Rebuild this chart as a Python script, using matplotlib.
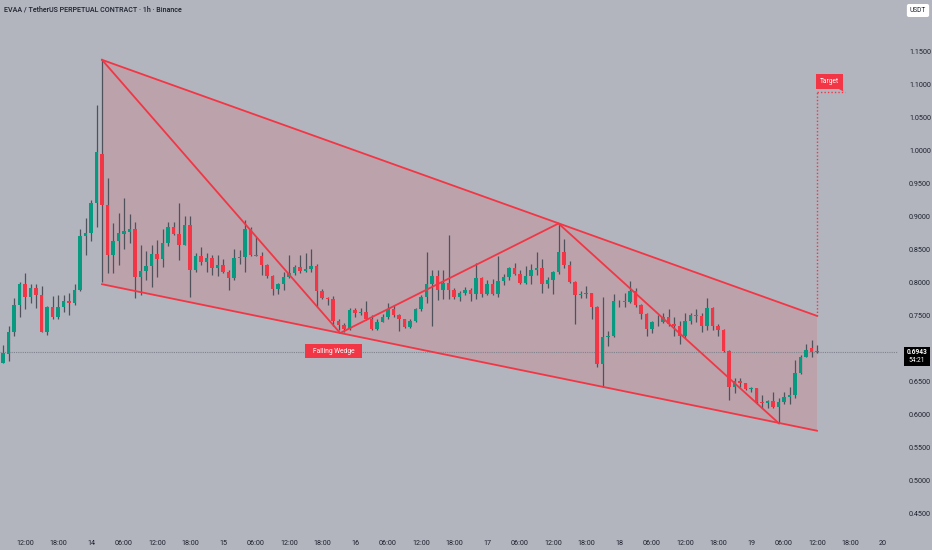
import numpy as np
import matplotlib
matplotlib.use('Agg')
import matplotlib.pyplot as plt
from matplotlib.patches import Rectangle, Polygon

plt.rcParams['font.family'] = ['Roboto', 'DejaVu Sans']

# 1h candles, first one at day 13 08:00 (x = hours since day 13 00:00)
start_hour = 8
opens = [0.678, 0.692, 0.724, 0.766, 0.797, 0.777, 0.792, 0.781, 0.725, 0.763,
         0.748, 0.762, 0.771, 0.769, 0.788, 0.870, 0.874, 0.920, 0.995, 0.917,
         0.841, 0.862, 0.873, 0.876, 0.880, 0.808, 0.817, 0.825, 0.843, 0.835,
         0.859, 0.884, 0.873, 0.857, 0.887, 0.819, 0.840, 0.830, 0.836, 0.821,
         0.826, 0.816, 0.806, 0.836, 0.838, 0.881, 0.842, 0.840, 0.826, 0.809,
         0.790, 0.797, 0.808, 0.814, 0.823, 0.817, 0.820, 0.824, 0.786, 0.776,
         0.775, 0.741, 0.735, 0.729, 0.758, 0.754, 0.755, 0.745, 0.729, 0.740,
         0.748, 0.759, 0.751, 0.744, 0.732, 0.742, 0.759, 0.778, 0.797, 0.809,
         0.788, 0.799, 0.788, 0.778, 0.783, 0.788, 0.782, 0.807, 0.782, 0.797,
         0.782, 0.802, 0.808, 0.821, 0.812, 0.799, 0.810, 0.819, 0.821, 0.798,
         0.804, 0.815, 0.846, 0.826, 0.801, 0.781, 0.782, 0.783, 0.762, 0.676,
         0.717, 0.718, 0.772, 0.771, 0.770, 0.786, 0.766, 0.752, 0.729, 0.739,
         0.740, 0.748, 0.736, 0.734, 0.718, 0.741, 0.750, 0.749, 0.733, 0.761,
         0.733, 0.728, 0.696, 0.641, 0.650, 0.647, 0.638, 0.639, 0.618, 0.617,
         0.620, 0.611, 0.618, 0.626, 0.629, 0.662, 0.687, 0.700, 0.6946]
highs = [0.705, 0.734, 0.776, 0.801, 0.814, 0.798, 0.798, 0.794, 0.764, 0.779,
         0.780, 0.780, 0.784, 0.798, 0.880, 0.897, 0.925, 1.068, 1.137, 0.958,
         0.890, 0.905, 0.927, 0.903, 0.892, 0.856, 0.848, 0.856, 0.864, 0.881,
         0.892, 0.892, 0.920, 0.901, 0.901, 0.844, 0.854, 0.844, 0.842, 0.842,
         0.835, 0.818, 0.850, 0.849, 0.894, 0.884, 0.869, 0.846, 0.827, 0.811,
         0.799, 0.816, 0.842, 0.826, 0.842, 0.844, 0.851, 0.827, 0.789, 0.778,
         0.779, 0.744, 0.738, 0.761, 0.761, 0.761, 0.772, 0.750, 0.744, 0.752,
         0.768, 0.766, 0.752, 0.745, 0.745, 0.761, 0.781, 0.846, 0.819, 0.819,
         0.819, 0.872, 0.792, 0.787, 0.793, 0.792, 0.829, 0.808, 0.803, 0.805,
         0.839, 0.813, 0.823, 0.829, 0.819, 0.824, 0.828, 0.846, 0.835, 0.808,
         0.817, 0.888, 0.865, 0.832, 0.802, 0.786, 0.794, 0.784, 0.764, 0.777,
         0.726, 0.782, 0.773, 0.783, 0.802, 0.792, 0.767, 0.753, 0.741, 0.750,
         0.754, 0.759, 0.748, 0.742, 0.754, 0.754, 0.760, 0.754, 0.776, 0.762,
         0.737, 0.729, 0.698, 0.655, 0.655, 0.648, 0.641, 0.640, 0.629, 0.622,
         0.633, 0.624, 0.634, 0.641, 0.682, 0.690, 0.706, 0.712, 0.705]
lows = [0.677, 0.681, 0.719, 0.747, 0.760, 0.768, 0.761, 0.724, 0.720, 0.745,
        0.745, 0.755, 0.750, 0.765, 0.787, 0.841, 0.863, 0.883, 0.801, 0.814,
        0.814, 0.826, 0.851, 0.859, 0.776, 0.781, 0.803, 0.793, 0.808, 0.823,
        0.855, 0.871, 0.834, 0.856, 0.778, 0.815, 0.826, 0.815, 0.811, 0.810,
        0.814, 0.788, 0.803, 0.828, 0.815, 0.839, 0.840, 0.811, 0.807, 0.781,
        0.782, 0.788, 0.806, 0.811, 0.814, 0.815, 0.816, 0.763, 0.774, 0.766,
        0.733, 0.728, 0.725, 0.728, 0.748, 0.750, 0.743, 0.728, 0.727, 0.739,
        0.745, 0.748, 0.726, 0.730, 0.730, 0.739, 0.756, 0.768, 0.733, 0.773,
        0.775, 0.775, 0.774, 0.772, 0.780, 0.772, 0.775, 0.777, 0.781, 0.780,
        0.777, 0.796, 0.803, 0.811, 0.798, 0.797, 0.797, 0.811, 0.783, 0.791,
        0.782, 0.813, 0.822, 0.799, 0.737, 0.776, 0.776, 0.744, 0.672, 0.641,
        0.703, 0.717, 0.762, 0.763, 0.768, 0.763, 0.744, 0.719, 0.723, 0.734,
        0.738, 0.733, 0.718, 0.706, 0.716, 0.736, 0.739, 0.725, 0.727, 0.727,
        0.718, 0.694, 0.622, 0.632, 0.641, 0.636, 0.634, 0.616, 0.609, 0.609,
        0.609, 0.586, 0.616, 0.616, 0.625, 0.661, 0.686, 0.686, 0.693]
closes = [0.693, 0.725, 0.766, 0.797, 0.777, 0.792, 0.781, 0.725, 0.763, 0.748,
          0.762, 0.771, 0.769, 0.788, 0.870, 0.874, 0.920, 0.998, 0.917, 0.841,
          0.862, 0.874, 0.877, 0.880, 0.808, 0.817, 0.825, 0.843, 0.835, 0.859,
          0.884, 0.873, 0.857, 0.887, 0.819, 0.840, 0.830, 0.836, 0.821, 0.826,
          0.816, 0.806, 0.836, 0.838, 0.881, 0.842, 0.840, 0.826, 0.809, 0.790,
          0.797, 0.808, 0.814, 0.823, 0.817, 0.820, 0.824, 0.786, 0.776, 0.775,
          0.741, 0.735, 0.729, 0.758, 0.754, 0.755, 0.745, 0.729, 0.740, 0.748,
          0.759, 0.751, 0.744, 0.732, 0.742, 0.759, 0.778, 0.797, 0.809, 0.788,
          0.799, 0.788, 0.778, 0.783, 0.788, 0.782, 0.807, 0.782, 0.797, 0.782,
          0.802, 0.808, 0.821, 0.812, 0.799, 0.810, 0.819, 0.821, 0.798, 0.804,
          0.815, 0.846, 0.826, 0.801, 0.781, 0.782, 0.783, 0.762, 0.676, 0.717,
          0.718, 0.772, 0.771, 0.770, 0.786, 0.766, 0.752, 0.729, 0.739, 0.740,
          0.748, 0.736, 0.734, 0.718, 0.741, 0.750, 0.749, 0.733, 0.761, 0.733,
          0.728, 0.696, 0.641, 0.650, 0.647, 0.638, 0.639, 0.618, 0.617, 0.620,
          0.611, 0.618, 0.626, 0.629, 0.662, 0.687, 0.698, 0.694, 0.6943]

last_price = 0.6943
countdown = '54:21'

# drawings (hour, price)
wedge_upper = [(26, 1.137), (156, 0.749)]
wedge_lower = [(26, 0.797), (156, 0.575)]
zigzag = [(26, 1.137), (69.3, 0.723), (109, 0.889), (149.1, 0.586)]
target_price = 1.088

xtick_hours = list(range(12, 169, 6))
xtick_labels = ['12:00', '18:00', '14', '06:00', '12:00', '18:00', '15', '06:00', '12:00',
                '18:00', '16', '06:00', '12:00', '18:00', '17', '06:00', '12:00', '18:00',
                '18', '06:00', '12:00', '18:00', '19', '06:00', '12:00', '18:00', '20']
# 0.7000 sits under the last-price tag, so it is left out
ytick_values = [0.45, 0.50, 0.55, 0.60, 0.65, 0.75, 0.80, 0.85, 0.90,
                0.95, 1.00, 1.05, 1.10, 1.15]

bg = '#b2b5be'
up_col = '#089981'
down_col = '#f23645'
wick_col = '#4f525b'
red = '#f23645'

W, H = 932, 550
fig = plt.figure(figsize=(W / 100, H / 100), dpi=100)
fig.patch.set_facecolor(bg)
ax = fig.add_axes([0, 20 / H, 898 / W, 530 / H])
ax.set_facecolor(bg)

hours = np.arange(len(opens)) + start_hour
o = np.array(opens)
c = np.array(closes)
hi = np.array(highs)
lo = np.array(lows)
up = c >= o
cols = np.where(up, up_col, down_col)

# wedge fill
poly = [wedge_upper[0], wedge_upper[1], wedge_lower[1], wedge_lower[0]]
ax.add_patch(Polygon(poly, closed=True, facecolor=red, alpha=0.15, edgecolor='none', zorder=1))

# candles
ax.vlines(hours, lo, hi, color=wick_col, lw=0.9, zorder=2)
body = np.maximum(np.abs(c - o), 0.0012)
ax.bar(hours, body, bottom=np.minimum(o, c), width=0.72, color=cols, zorder=2.5)

# wedge lines
for seg in (wedge_upper, wedge_lower, zigzag):
    xs = [p[0] for p in seg]
    ys = [p[1] for p in seg]
    ax.plot(xs, ys, color=red, lw=1.3, zorder=3)

# current price line
ax.axhline(last_price, color='#80838d', lw=0.8, ls=(0, (1, 1)), zorder=1.5)

# target projection
tx = wedge_upper[1][0]
ax.plot([tx, tx], [wedge_upper[1][1], target_price], color=red, lw=1, ls=(0, (1, 1.5)), zorder=3)
ax.plot([tx, tx + 5], [target_price, target_price], color=red, lw=1, ls=(0, (1, 1.5)), zorder=3)
ax.add_patch(Rectangle((155.8, 1.0928), 4.9, 0.0227, facecolor=red, edgecolor='none', zorder=4))
ax.add_patch(Polygon([(159.8, 1.0935), (160.7, 1.0935), (160.8, 1.089)], closed=True,
                     facecolor=red, edgecolor='none', zorder=4))
ax.text(158.25, 1.1042, 'Target', color='white', fontsize=4.8, ha='center', va='center', zorder=5)

# falling wedge label
ax.add_patch(Rectangle((62.9, 0.6852), 10.4, 0.0212, facecolor=red, edgecolor='none', zorder=4))
ax.text(68.1, 0.6958, 'Falling Wedge', color='white', fontsize=4.8, ha='center', va='center', zorder=5)

ax.set_xlim(12 - 25 / 5.5, 12 + (898 - 25) / 5.5)
ax.set_ylim(last_price - 178 / 660, last_price + 352 / 660)

ax.set_xticks(xtick_hours)
ax.set_xticklabels(xtick_labels)
ax.yaxis.tick_right()
ax.set_yticks(ytick_values)
ax.set_yticklabels(['%.4f' % v for v in ytick_values])
ax.tick_params(axis='both', length=0, labelsize=5.2, colors='#1e222d')
ax.tick_params(axis='x', pad=7.5)
ax.tick_params(axis='y', pad=8)
for s in ax.spines.values():
    s.set_visible(False)

# title
fig.text(4 / W, 1 - 10 / H, 'EVAA / TetherUS PERPETUAL CONTRACT · 1h · Binance',
         fontsize=5.1, color='#1e222d', ha='left', va='center', fontweight='medium')

# USDT box
fig.text(918 / W, 1 - 10.5 / H, 'USDT', fontsize=4.8, color='#1e222d', ha='center', va='center',
         bbox=dict(boxstyle='round,pad=0.45,rounding_size=0.3', facecolor='white', edgecolor='none'))

# last price tag
fig.patches.append(Rectangle((904 / W, 1 - 366 / H), 26 / W, 19 / H, transform=fig.transFigure,
                             facecolor='black', edgecolor='none'))
fig.text(917 / W, 1 - 352 / H, '%.4f' % last_price, fontsize=4.8, color='white',
         ha='center', va='center', fontweight='bold')
fig.text(917 / W, 1 - 361 / H, countdown, fontsize=4.8, color='white', ha='center', va='center')

plt.savefig('out.png', dpi=100, facecolor=bg)
